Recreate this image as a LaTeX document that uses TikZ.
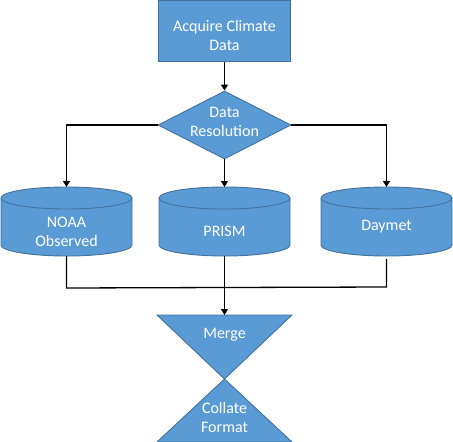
\documentclass[tikz,border=0pt]{standalone}
\usepackage{fontspec}
\setmainfont{Carlito}
\usetikzlibrary{shapes.geometric,arrows.meta}
\definecolor{boxfill}{HTML}{5B9BD5}
\definecolor{boxline}{HTML}{41719C}
\tikzset{
  shapestyle/.style={fill=boxfill,draw=boxline,line width=0.9pt},
  lbl/.style={text=white,font=\fontsize{16}{19}\selectfont,align=center,inner sep=0pt},
  conn/.style={draw=black,line width=1.3pt},
  arr/.style={conn,-{Triangle[length=6pt,width=7pt]}}
}
\begin{document}
\begin{tikzpicture}[x=1pt,y=1pt]
\useasboundingbox (0,0) rectangle (453,-442);
% acquire box
\node[shapestyle,rectangle,minimum width=132pt,minimum height=61pt,inner sep=0pt] (acq) at (224.5,-31) {};
\node[lbl] (acqt) at (224.5,-36) {Acquire Climate\\Data};
% diamond
\node[shapestyle,diamond,minimum width=133pt,minimum height=68pt,inner sep=0pt] (res) at (224.5,-125) {};
\node[lbl] (rest) at (224.5,-122) {Data\\Resolution};
% cylinders
\foreach \nm/\cx in {noaa/66.5,prism/224.5,daymet/386.5}{
  \fill[boxfill] (\cx-65.5,-198) -- (\cx-65.5,-245) arc (180:360:65.5pt and 11pt) -- (\cx+65.5,-198) arc (0:180:65.5pt and 11pt) -- cycle;
  \draw[boxline,line width=0.9pt] (\cx-65.5,-198) -- (\cx-65.5,-245) arc (180:360:65.5pt and 11pt) -- (\cx+65.5,-198) arc (0:180:65.5pt and 11pt) -- cycle;
  \draw[boxline,line width=0.9pt] (\cx-65.5,-198) arc (180:360:65.5pt and 11pt);
  \coordinate (\nm-top) at (\cx,-187);
  \coordinate (\nm-bot) at (\cx,-256);
}
\node[lbl] (noaat) at (66.5,-232) {NOAA\\Observed};
\node[lbl] (prismt) at (224.5,-231) {PRISM};
\node[lbl] (daymett) at (386.5,-227) {Daymet};
% merge / collate triangles
\coordinate (mL) at (157,-315);
\coordinate (mR) at (292,-315);
\coordinate (apex) at (224.5,-379);
\coordinate (cL) at (157,-442);
\coordinate (cR) at (292,-442);
\coordinate (merge-top) at (224.5,-315);
\draw[shapestyle] (mL) -- (mR) -- (apex) -- cycle;
\draw[shapestyle] (apex) -- (cR) -- (cL) -- cycle;
\node[lbl] (merget) at (224.5,-335) {Merge};
\node[lbl] (collt) at (224.5,-417) {Collate\\Format};
% connectors
\coordinate (jl) at (66.5,-288);
\coordinate (jr) at (386.5,-287);
\coordinate (daymet-bot2) at (386.5,-259);
\draw[arr] (acq.south) -- (res.north);
\draw[arr] (res.west) -| (noaa-top);
\draw[arr] (res.south) -- (prism-top);
\draw[arr] (res.east) -| (daymet-top);
\draw[conn] (noaa-bot) -- (jl) -- (jr) -- (daymet-bot2);
\draw[arr] (prism-bot) -- (merge-top);
\end{tikzpicture}
\end{document}
